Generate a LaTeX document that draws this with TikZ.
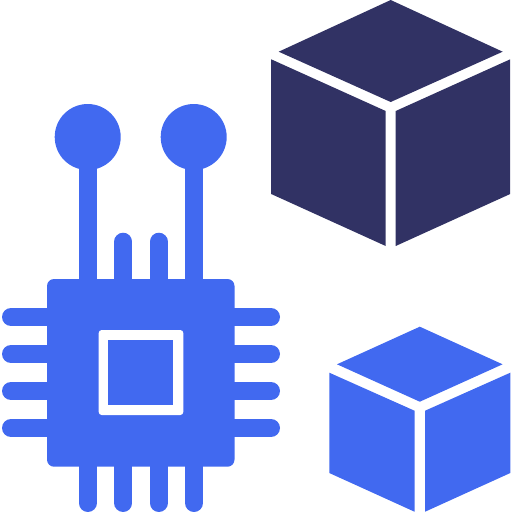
\documentclass[tikz,border=0pt]{standalone}
\usetikzlibrary{calc}

\definecolor{chipBlue}{RGB}{65,105,240}
\definecolor{cubeNavy}{RGB}{49,50,100}

\begin{document}
\begin{tikzpicture}[
    x=1pt, y=-1pt,
    pin/.style = {draw = chipBlue, line width = 18pt, line cap = round},
    lead/.style = {draw = chipBlue, line width = 18pt},
    ]

    % Determines the boundries
    \path[use as bounding box] (0,0) rectangle (512,512);

    \def\chipL{47}
    \def\chipR{234.5}
    \def\chipT{279}
    \def\chipB{466.7}

    % Draws a cube from its three faces
    % #1 colour, #2 centre x, #3 half width top, #4 half width side, #5 gap
    % #6 apex y, #7 top face mid y, #8 top face low y, #9 side heights as a/b/c/d
    \def\cubeFaces#1#2#3#4#5#6#7#8#9{
        \foreach \a/\b/\c/\d in {#9}{
            \fill[#1] (#2,#6) -- (#2+#3,#7) -- (#2,#8) -- (#2-#3,#7) -- cycle;
            \fill[#1] (#2-#4,\a) -- (#2-#5,\b) -- (#2-#5,\d) -- (#2-#4,\c) -- cycle;
            \fill[#1] (#2+#5,\b) -- (#2+#4,\a) -- (#2+#4,\c) -- (#2+#5,\d) -- cycle;
        }
    }

    % The two cubes
    \cubeFaces{cubeNavy}{390.7}{112}{119.5}{5}{0}{51.7}{102}{59.3/111/194/246}
    \cubeFaces{chipBlue}{419.8}{82.8}{90.5}{5.3}{326.7}{364.3}{401.7}{372.7/410.7/473/511.7}

    % Side and bottom pins
    \foreach \y in {317,354,391,428}{
        \draw[pin] (11,\y) -- (60,\y);
        \draw[pin] (220,\y) -- (271,\y);
    }
    \foreach \x in {87.7,123.3,158.7,194}{
        \draw[pin] (\x,503) -- (\x,450);
    }

    % Short pins on top
    \foreach \x in {123.3,158.7}{
        \draw[pin] (\x,241.7) -- (\x,300);
    }

    % Long pins ending in pads
    \foreach \x in {87.7,193.7}{
        \draw[lead] (\x,137) -- (\x,300);
        \fill[chipBlue] (\x,137) circle (33);
    }

    % The chip body
    \fill[chipBlue, rounded corners = 7pt] (\chipL,\chipT) rectangle (\chipR,\chipB);
    \fill[white, rounded corners = 3pt] (98.7,330) rectangle (183.3,415);
    \fill[chipBlue] (108.3,340) rectangle (173.3,405);
\end{tikzpicture}
\end{document}
